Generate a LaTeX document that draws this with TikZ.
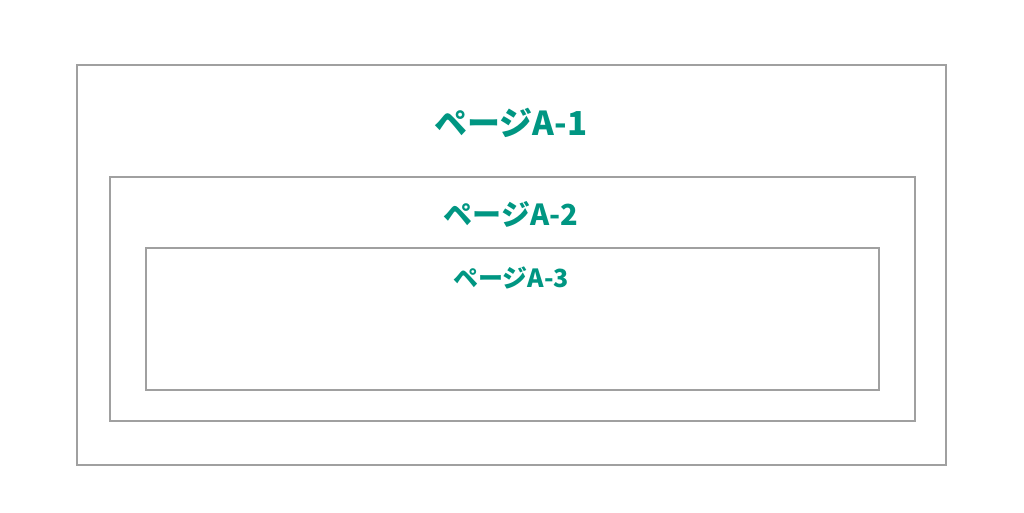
\documentclass[tikz,border=0pt]{standalone}
\usepackage{fontspec}
\setmainfont{Noto Sans CJK JP}
\definecolor{frame}{RGB}{160, 160, 160}
\definecolor{teal}{RGB}{0, 150, 130}

\begin{document}
\begin{tikzpicture}[
   x=1pt, y=-1pt,
   pagebox/.style={rectangle, draw=frame, line width=1.5, fill=none, inner sep=0},
   pagelabel/.style={text=teal, font=\bfseries, inner sep=0}
  ]

  \useasboundingbox (0, 0) rectangle (1024, 512);

  % Frames
  \node (P1) at (511.5, 265) [pagebox, minimum width=869, minimum height=400] {};
  \node (P2) at (512.5, 299) [pagebox, minimum width=805, minimum height=244] {};
  \node (P3) at (512.5, 319) [pagebox, minimum width=733, minimum height=142] {};

  % Labels
  \node (L1) at (511, 123) [pagelabel, font=\fontsize{33}{33}\selectfont\bfseries] {ページA-1};
  \node (L2) at (511, 214) [pagelabel, font=\fontsize{29}{29}\selectfont\bfseries] {ページA-2};
  \node (L3) at (511, 278) [pagelabel, font=\fontsize{25}{25}\selectfont\bfseries] {ページA-3};

\end{tikzpicture}
\end{document}
